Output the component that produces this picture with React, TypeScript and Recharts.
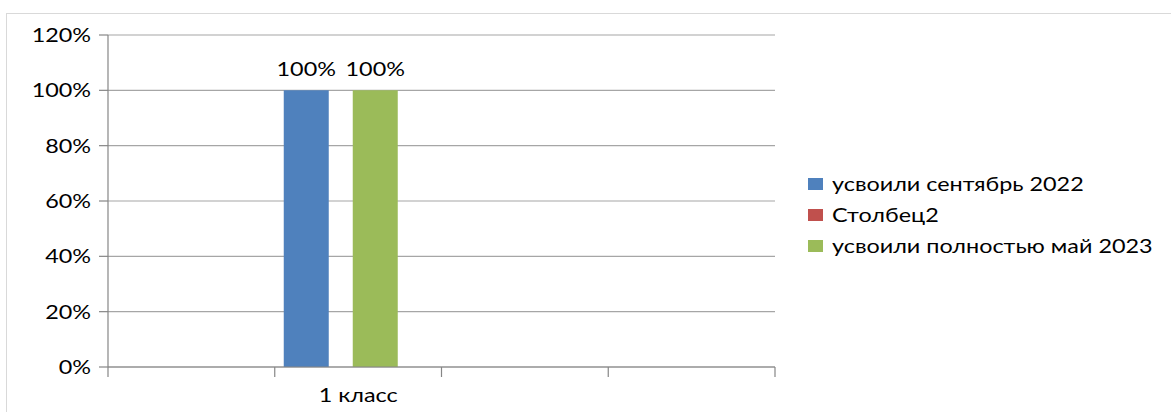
import React from 'react';
import { BarChart, Bar, XAxis, YAxis, CartesianGrid, Legend, LabelList } from 'recharts';

const categories = ['', '1 класс', '', ''];
const septemberValues = [null, 1, null, null];
const column2Values = [null, null, null, null];
const mayValues = [null, 1, null, null];
const hiddenValues = [null, null, null, null];
const seriesNames = ['усвоили сентябрь 2022', 'Столбец2', 'усвоили полностью май 2023', 'Столбец3'];
const seriesColors = ['#4f81bd', '#c0504d', '#9bbb59', '#8064a2'];
const yTicks = [0, 0.2, 0.4, 0.6, 0.8, 1.0, 1.2];

const data = categories.map((c, i) => ({
  category: c,
  s1: septemberValues[i],
  s2: column2Values[i],
  s3: mayValues[i],
  s4: hiddenValues[i],
}));

const FONT = 'Lato, "Open Sans", sans-serif';
const FS = 19;
const SX = 1.23;
const AXIS = '#868686';
const pct = (v: number) => `${Math.round(v * 100)}%`;

const YTick = (props: any) => {
  const { x, y, payload } = props;
  return (
    <g transform={`translate(${x},${y})`}>
      <text x={0} y={0} dy="0.36em" textAnchor="end" transform={`scale(${SX},1)`} fontFamily={FONT} fontSize={FS} fill="#000">
        {pct(payload.value)}
      </text>
    </g>
  );
};

const XTick = (props: any) => {
  const { x, y, payload, index } = props;
  const off = payload.offset || 0;
  const last = index === categories.length - 1;
  return (
    <g>
      <line x1={x - off} x2={x - off} y1={y} y2={y + 10} stroke={AXIS} strokeWidth={1.2} />
      {last && <line x1={x + off} x2={x + off} y1={y} y2={y + 10} stroke={AXIS} strokeWidth={1.2} />}
      {payload.value ? (
        <g transform={`translate(${x},${y + 35})`}>
          <text x={0} y={0} textAnchor="middle" transform={`scale(${SX},1)`} fontFamily={FONT} fontSize={FS} fill="#000">
            {payload.value}
          </text>
        </g>
      ) : null}
    </g>
  );
};

const BarLabel = (props: any) => {
  const { x, y, width, value } = props;
  if (value === null || value === undefined) return null;
  return (
    <g transform={`translate(${x + width / 2},${y - 14})`}>
      <text x={0} y={0} textAnchor="middle" transform={`scale(${SX},1)`} fontFamily={FONT} fontSize={FS} fill="#000">
        {pct(value)}
      </text>
    </g>
  );
};

const LegendContent = (props: any) => {
  const payload = (props.payload || [])
    .filter((p: any) => p.type !== 'none')
    .slice()
    .sort((a: any, b: any) => seriesNames.indexOf(a.value) - seriesNames.indexOf(b.value));
  return (
    <div style={{ fontFamily: FONT, fontSize: FS, color: '#000' }}>
      {payload.map((p: any, i: number) => (
        <div key={i} style={{ display: 'flex', alignItems: 'center', height: 31, whiteSpace: 'nowrap' }}>
          <div style={{ width: 15, height: 12, background: p.color, marginRight: 9, flex: 'none' }} />
          <span style={{ display: 'inline-block', transform: `scaleX(${SX})`, transformOrigin: 'left center' }}>{p.value}</span>
        </div>
      ))}
    </div>
  );
};

export default function App() {
  return (
    <div style={{ position: 'absolute', left: 0, top: 0, width: 1171, height: 412, overflow: 'hidden', background: '#fff' }}>
      <div style={{ position: 'absolute', left: 6, top: 13, width: 1300, height: 500, border: '1.5px solid #d9d9d9', boxSizing: 'border-box' }} />
      <div style={{ position: 'absolute', left: 0, top: 0 }}>
        <BarChart width={1171} height={412} data={data} margin={{ top: 35, right: 396, left: 0, bottom: 0 }} barGap={-10.5}>
          <CartesianGrid vertical={false} stroke="#a6a6a6" strokeWidth={1.2} />
          <XAxis
            dataKey="category"
            height={45}
            interval={0}
            tickSize={0}
            tickMargin={0}
            tickLine={false}
            axisLine={{ stroke: AXIS, strokeWidth: 1.2 }}
            tick={<XTick />}
          />
          <YAxis
            width={108}
            domain={[0, 1.2]}
            ticks={yTicks}
            interval={0}
            tickSize={9}
            tickMargin={8}
            axisLine={{ stroke: AXIS, strokeWidth: 1.2 }}
            tickLine={{ stroke: AXIS, strokeWidth: 1.2 }}
            tick={<YTick />}
          />
          <Legend
            layout="vertical"
            align="center"
            verticalAlign="middle"
            wrapperStyle={{ left: 808, top: 168, width: 360 }}
            content={<LegendContent />}
          />
          <Bar dataKey="s1" name={seriesNames[0]} fill={seriesColors[0]} barSize={45} isAnimationActive={false}>
            <LabelList dataKey="s1" content={<BarLabel />} />
          </Bar>
          <Bar dataKey="s2" name={seriesNames[1]} fill={seriesColors[1]} barSize={45} isAnimationActive={false} />
          <Bar dataKey="s3" name={seriesNames[2]} fill={seriesColors[2]} barSize={45} isAnimationActive={false}>
            <LabelList dataKey="s3" content={<BarLabel />} />
          </Bar>
          <Bar dataKey="s4" name={seriesNames[3]} fill={seriesColors[3]} barSize={45} legendType="none" isAnimationActive={false} />
        </BarChart>
      </div>
    </div>
  );
}
